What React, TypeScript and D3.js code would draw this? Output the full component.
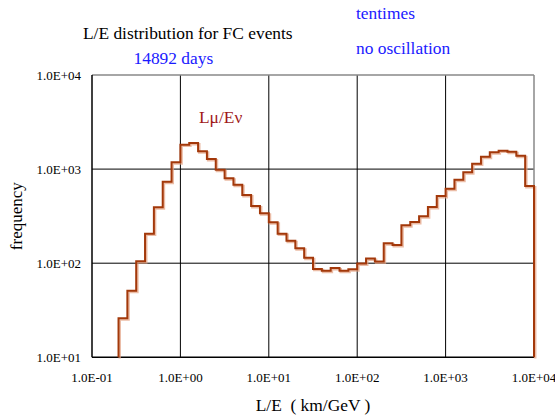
import React from "react";
import * as d3 from "d3";

const W = 555;
const H = 417;

// Histogram bins: lower edges in log10(L/E), bin width 0.1 decade
const binWidthLog = 0.1;
const firstBinLog = -0.7;
const counts = [
  26, 51, 105, 206, 393, 735, 1180, 1820, 1890, 1545,
  1280, 986, 798, 682, 531, 405, 339, 272, 206, 173,
  144, 114, 87, 83, 89, 83, 86, 99, 112, 104,
  163, 156, 253, 274, 315, 395, 517, 619, 771, 925,
  1142, 1355, 1508, 1570, 1530, 1387, 661,
];

const xTicks = [0.1, 1, 10, 100, 1000, 10000];
const xTickLabels = ["1.0E-01", "1.0E+00", "1.0E+01", "1.0E+02", "1.0E+03", "1.0E+04"];
const yTicks = [10, 100, 1000, 10000];
const yTickLabels = ["1.0E+01", "1.0E+02", "1.0E+03", "1.0E+04"];

const title = "L/E distribution for FC events";
const subtitle = "14892 days";
const note1 = "tentimes";
const note2 = "no oscillation";
const seriesLabel = "Lμ/Eν";
const xTitle = "L/E  ( km/GeV )";
const yTitle = "frequency";

const plot = { left: 92, right: 534, top: 75, bottom: 357.3 };

export default function App() {
  const x = d3.scaleLog().domain([0.1, 10000]).range([plot.left, plot.right]);
  const y = d3.scaleLog().domain([10, 10000]).range([plot.bottom, plot.top]).clamp(true);

  const pts: [number, number][] = [];
  const edge = (i: number) => Math.pow(10, firstBinLog + i * binWidthLog);
  pts.push([edge(0), 10]);
  counts.forEach((c, i) => {
    pts.push([edge(i), c]);
    pts.push([edge(i + 1), c]);
  });
  pts.push([edge(counts.length), 10]);
  const line = d3
    .line<[number, number]>()
    .x((d) => x(d[0]))
    .y((d) => y(d[1]));
  const path = line(pts) || "";

  const serif = '"Liberation Serif", "DejaVu Serif", serif';
  const ts = { fontFamily: serif, whiteSpace: "pre" as const };

  return (
    <svg
      width={W}
      height={H}
      style={{ position: "absolute", left: 0, top: 0, background: "#fff", fontFamily: serif }}
    >
      <rect x={0} y={0} width={W} height={H} fill="#fff" />
      {/* grid */}
      {xTicks.slice(1, -1).map((t) => (
        <line key={"gx" + t} x1={x(t)} x2={x(t)} y1={plot.top} y2={plot.bottom} stroke="#000" strokeWidth={1} />
      ))}
      {yTicks.slice(1, -1).map((t) => (
        <line key={"gy" + t} x1={plot.left} x2={plot.right} y1={y(t)} y2={y(t)} stroke="#000" strokeWidth={1} />
      ))}
      {/* frame */}
      <line x1={plot.left} x2={plot.right} y1={plot.top} y2={plot.top} stroke="#888" strokeWidth={1.5} />
      <line x1={plot.right} x2={plot.right} y1={plot.top} y2={plot.bottom} stroke="#888" strokeWidth={1.5} />
      <line x1={plot.left} x2={plot.left} y1={plot.top} y2={plot.bottom} stroke="#000" strokeWidth={1.5} />
      <line x1={plot.left} x2={plot.right} y1={plot.bottom} y2={plot.bottom} stroke="#000" strokeWidth={1.5} />

      {/* histogram */}
      <path d={path} fill="none" stroke="#e2a080" strokeOpacity={0.7} strokeWidth={2.5} transform="translate(1.2,1.2)" />
      <path d={path} fill="none" stroke="#a3380a" strokeWidth={2} />

      {/* tick labels */}
      {xTicks.map((t, i) => (
        <text key={"xl" + t} style={ts} x={x(t)} y={382} textAnchor="middle" fontSize={13} fill="#000">
          {xTickLabels[i]}
        </text>
      ))}
      {yTicks.map((t, i) => (
        <text key={"yl" + t} style={ts} x={81} y={y(t) + 4.5} textAnchor="end" fontSize={13} fill="#000">
          {yTickLabels[i]}
        </text>
      ))}

      {/* titles */}
      <text style={ts} x={83} y={38.5} fontSize={17.4} fill="#000">{title}</text>
      <text style={ts} x={133.5} y={64} fontSize={17.4} fill="#1a1aff">{subtitle}</text>
      <text style={ts} x={356} y={19} fontSize={17.4} fill="#1a1aff">{note1}</text>
      <text style={ts} x={356} y={54} fontSize={17.4} fill="#1a1aff">{note2}</text>
      <text style={ts} x={199} y={122.7} fontSize={17.4} fill="#a01818">{seriesLabel}</text>
      <text style={ts} x={313} y={411} textAnchor="middle" fontSize={17.4} fill="#000">{xTitle}</text>
      <text
        style={ts}
        transform={`translate(22,${(plot.top + plot.bottom) / 2}) rotate(-90)`}
        textAnchor="middle"
        fontSize={17}
        fill="#000"
      >
        {yTitle}
      </text>
    </svg>
  );
}
